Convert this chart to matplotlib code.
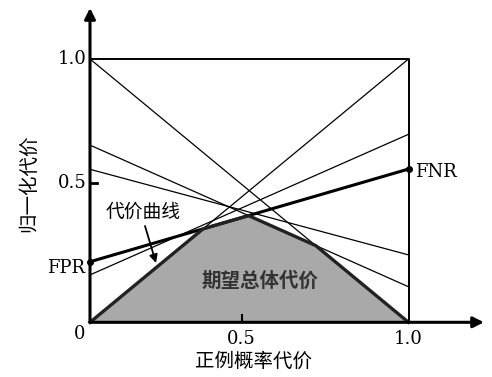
import matplotlib.pyplot as plt
import numpy as np

# cost lines: normalised cost at x=0 and at x=1
left_vals = [0.0, 1.0, 0.18, 0.23, 0.673, 0.581]
right_vals = [1.0, 0.0, 0.714, 0.582, 0.135, 0.256]
thick_idx = 3  # the FPR -> FNR line drawn bold

ytick_vals = [1.0, 0.53]
ytick_labels = ['1.0', '0.5']
xtick_vals = [0.476, 1.0]
xtick_labels = ['0.5', '1.0']

cjk = ['Noto Sans CJK SC', 'DejaVu Sans']
serif = 'DejaVu Serif'

# pixel -> data helpers (figure is 492x377)
def px(x):
    return (x - 90) / 318.5

def py(y):
    return (322.3 - y) / 263.3

fig = plt.figure(figsize=(4.92, 3.77), dpi=100)
ax = fig.add_axes([0, 0, 1, 1])
ax.set_xlim(px(0), px(492))
ax.set_ylim(py(377), py(0))
ax.axis('off')

xs = np.linspace(0, 1, 801)
lines = [l + (r - l) * xs for l, r in zip(left_vals, right_vals)]
env = np.min(lines, axis=0)

ax.fill_between(xs, 0, env, color='#a9a9a9', lw=0, zorder=1)

for i, ys in enumerate(lines):
    if i == thick_idx:
        ax.plot(xs, ys, color='k', lw=2.2, zorder=3)
        ax.plot([0, 1], [left_vals[i], right_vals[i]], 'ko', ms=4, zorder=4, clip_on=False)
    else:
        ax.plot(xs, ys, color='k', lw=0.9, zorder=2)

ax.plot(xs, env, color='#222222', lw=2.4, zorder=3)

# frame
ax.plot([0, 1, 1], [1, 1, 0], color='k', lw=1.4, zorder=2)
ax.annotate('', xy=(0, py(8)), xytext=(0, 0),
            arrowprops=dict(arrowstyle='-|>', lw=2.2, color='k',
                            mutation_scale=16, shrinkA=0, shrinkB=0))
ax.annotate('', xy=(px(484), 0), xytext=(0, 0),
            arrowprops=dict(arrowstyle='-|>', lw=2.2, color='k',
                            mutation_scale=16, shrinkA=0, shrinkB=0))

# ticks
for v, lab in zip(ytick_vals, ytick_labels):
    ax.text(px(87), v, lab, ha='right', va='center', fontsize=13, family=serif)
ax.plot([0, px(97)], [ytick_vals[1]] * 2, color='k', lw=2)
for v, lab in zip(xtick_vals, xtick_labels):
    ax.text(v, py(339), lab, ha='center', va='center', fontsize=13, family=serif)
ax.plot([xtick_vals[0]] * 2, [0, py(315)], color='k', lw=1.5)
ax.text(px(80), py(334), '0', ha='center', va='center', fontsize=13, family=serif)

ax.text(px(85), py(268), 'FPR', ha='right', va='center', fontsize=13, family=serif)
ax.text(px(415), py(172), 'FNR', ha='left', va='center', fontsize=13, family=serif)

# annotations
ax.text(px(143), py(212), '代价曲线', ha='center', va='center', fontsize=13.5, family=cjk)
ax.annotate('', xy=(px(156), py(263)), xytext=(px(145), py(226)),
            arrowprops=dict(arrowstyle='-|>', lw=1.3, color='k',
                            mutation_scale=12, shrinkA=0, shrinkB=0))
ax.text(px(260), py(281), '期望总体代价', ha='center', va='center', fontsize=14,
        family=cjk, color='#333333', fontweight='bold')

ax.text(px(253), py(361), '正例概率代价', ha='center', va='center', fontsize=14, family=cjk)
ax.text(px(29), py(183), '归一化代价', ha='center', va='center', fontsize=14,
        family=cjk, rotation=90)

fig.savefig('out.png', dpi=100)
